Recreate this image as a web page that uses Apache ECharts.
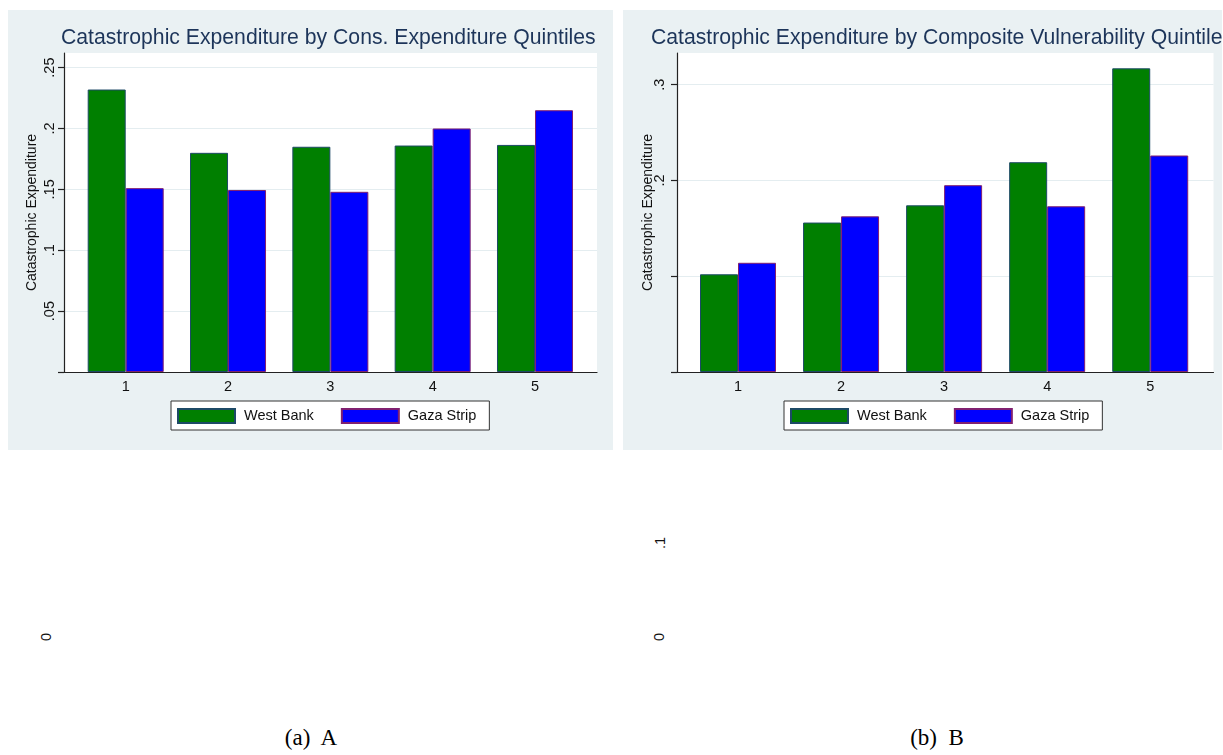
<!DOCTYPE html>
<html>
<head>
<meta charset="utf-8">
<script src="https://cdn.jsdelivr.net/npm/echarts@6/dist/echarts.min.js"></script>
<style>
  html, body { margin: 0; padding: 0; background: #ffffff; }
  body { width: 1223px; height: 755px; position: relative; overflow: hidden; }
  .panel { position: absolute; background: #eaf1f3; }
  .stray { position: absolute; font-family: "Liberation Sans", Arial, sans-serif; font-size: 14.5px; color: #111;
           transform: translate(-50%, -50%) rotate(-90deg); white-space: nowrap; line-height: 1; }
  .caption { position: absolute; font-family: "Liberation Serif", "Times New Roman", serif; font-size: 23px; color: #000;
             transform: translateX(-50%); white-space: pre; line-height: 1; }
</style>
</head>
<body>
<div id="chartA" class="panel" style="left:8px; top:10px; width:605px; height:440px;"></div>
<div id="chartB" class="panel" style="left:623px; top:10px; width:599px; height:440px;"></div>
<div class="stray" style="left:46px; top:637px;">0</div>
<div class="stray" style="left:660px; top:543px;">.1</div>
<div class="stray" style="left:659px; top:637px;">0</div>
<div class="caption" style="left:311px; top:726px;">(a)  A</div>
<div class="caption" style="left:937px; top:726px;">(b)  B</div>
<script>
// ---- data ----
const categories = [1, 2, 3, 4, 5];
const seriesNames = ['West Bank', 'Gaza Strip'];
const westBankA = [0.232, 0.180, 0.185, 0.186, 0.1865];
const gazaA     = [0.151, 0.1495, 0.148, 0.200, 0.215];
const westBankB = [0.102, 0.156, 0.174, 0.219, 0.317];
const gazaB     = [0.114, 0.1625, 0.195, 0.173, 0.226];
const yTicksA  = [0, 0.05, 0.1, 0.15, 0.2, 0.25];
const yLabelsA = [0.05, 0.1, 0.15, 0.2, 0.25];
const yTicksB  = [0, 0.1, 0.2, 0.3];
const yLabelsB = [0.2, 0.3];
const titleA = 'Catastrophic Expenditure by Cons. Expenditure Quintiles';
const titleB = 'Catastrophic Expenditure by Composite Vulnerability Quintiles';
const yName = 'Catastrophic Expenditure';

const FONT = '"Liberation Sans", Arial, sans-serif';
const stataFmt = v => String(+v.toFixed(4)).replace(/^0\./, '.');

function makeOption(cfg) {
  return {
    animation: false,
    textStyle: { fontFamily: FONT },
    title: {
      text: cfg.title, left: cfg.titleLeft, top: 18, padding: 0,
      textStyle: { fontFamily: FONT, fontSize: 21.2, fontWeight: 'normal', color: '#1d355a' }
    },
    grid: {
      left: cfg.gridLeft, right: cfg.gridRight, top: 43, bottom: 78,
      show: true, backgroundColor: '#ffffff', borderWidth: 0
    },
    legend: {
      left: cfg.legendLeft, top: 391,
      orient: 'horizontal',
      icon: 'rect',
      itemWidth: 57, itemHeight: 14, itemGap: 27,
      padding: [7, 13, 6, 6],
      backgroundColor: '#ffffff', borderColor: '#333333', borderWidth: 1, borderRadius: 0,
      textStyle: { fontFamily: FONT, fontSize: 14.5, color: '#111', padding: [0, 0, 0, 4] },
      data: seriesNames
    },
    xAxis: {
      type: 'value', min: cfg.xMin, max: cfg.xMax,
      axisLine: { show: true, onZero: false, lineStyle: { color: '#222', width: 1.2 } },
      axisTick: { show: false },
      splitLine: { show: false },
      axisLabel: { customValues: categories, formatter: v => String(v), margin: 7,
                   fontFamily: FONT, fontSize: 14.5, color: '#111' }
    },
    yAxis: {
      type: 'value', min: 0, max: cfg.yMax,
      name: yName, nameLocation: 'middle', nameRotate: 90, nameGap: cfg.nameGap,
      nameMoveOverlap: false,
      nameTextStyle: { fontFamily: FONT, fontSize: 14, color: '#111' },
      axisLine: { show: true, onZero: false, lineStyle: { color: '#222', width: 1.2 } },
      axisTick: { show: true, length: 6, customValues: cfg.yTicks, lineStyle: { color: '#222', width: 1.2 } },
      axisLabel: { customValues: cfg.yLabels, rotate: 90, margin: cfg.labelMargin, formatter: stataFmt,
                   fontFamily: FONT, fontSize: 14.5, color: '#111' },
      splitLine: { show: true, lineStyle: { color: '#e4edf0', width: 1.2 } }
    },
    series: [
      {
        type: 'bar', name: seriesNames[0], barWidth: 38, barGap: '0%',
        data: categories.map((c, i) => [c, cfg.wb[i]]),
        itemStyle: { color: '#007f00', borderColor: '#1d4a66', borderWidth: 1 }
      },
      {
        type: 'bar', name: seriesNames[1], barWidth: 38, barGap: '0%',
        data: categories.map((c, i) => [c, cfg.gz[i]]),
        itemStyle: { color: '#0000ff', borderColor: '#802070', borderWidth: 1 }
      }
    ]
  };
}

const chartA = echarts.init(document.getElementById('chartA'), null, { renderer: 'canvas' });
chartA.setOption(makeOption({
  title: titleA, titleLeft: 53,
  gridLeft: 56, gridRight: 16, legendLeft: 163,
  xMin: 0.397, xMax: 5.606, yMax: 0.262,
  yTicks: yTicksA, yLabels: yLabelsA, nameGap: 25, labelMargin: 7,
  wb: westBankA, gz: gazaA
}));

const chartB = echarts.init(document.getElementById('chartB'), null, { renderer: 'canvas' });
chartB.setOption(makeOption({
  title: titleB, titleLeft: 28,
  gridLeft: 54, gridRight: 8.5, legendLeft: 161,
  xMin: 0.408, xMax: 5.614, yMax: 0.333,
  yTicks: yTicksB, yLabels: yLabelsB, nameGap: 22, labelMargin: 10,
  wb: westBankB, gz: gazaB
}));
</script>
</body>
</html>
